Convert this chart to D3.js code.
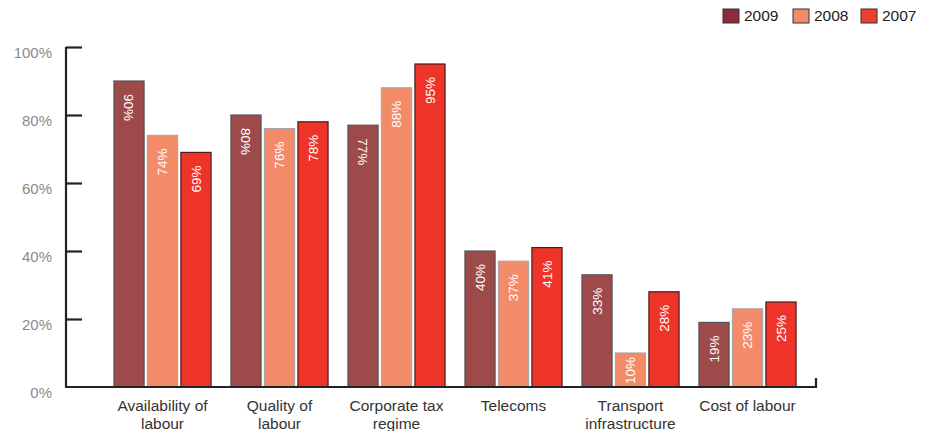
<!DOCTYPE html>
<html>
<head>
<meta charset="utf-8">
<script src="https://cdn.jsdelivr.net/npm/d3@7"></script>
<style>
  body { margin: 0; background: #fff; font-family: "Liberation Sans", Arial, sans-serif; }
  svg { display: block; }
</style>
</head>
<body>
<div id="chart"></div>
<script>
const categories = [["Availability of", "labour"], ["Quality of", "labour"], ["Corporate tax", "regime"], ["Telecoms"], ["Transport", "infrastructure"], ["Cost of labour"]];
const years = ["2009", "2008", "2007"];
const values2009 = [90, 80, 77, 40, 33, 19];
const values2008 = [74, 76, 88, 37, 10, 23];
const values2007 = [69, 78, 95, 41, 28, 25];
const yTicks = [0, 20, 40, 60, 80, 100];
// labels in these 2009 bars read top-to-bottom, all others bottom-to-top
const downLabels2009 = [0, 1, 2];

const width = 928, height = 431;
const fill = { "2009": "#9d4a4a", "2008": "#f38b69", "2007": "#ee3428" };
const stroke = { "2009": "#555", "2008": "#a8a8a8", "2007": "#4a1c1c" };
const legendFill = { "2009": "#8c2c36", "2008": "#f28a6b", "2007": "#e8412f" };

const series = { "2009": values2009, "2008": values2008, "2007": values2007 };
const rows = categories.map((c, i) => ({
  key: i, label: c,
  vals: years.map(y => ({ year: y, v: series[y][i], down: y === "2009" && downLabels2009.includes(i) }))
}));

const svg = d3.select("#chart").append("svg").attr("width", width).attr("height", height);

const x0 = d3.scaleBand().domain(rows.map(d => d.key)).range([104, 806]).paddingInner(0.17).paddingOuter(0.085);
const x1 = d3.scaleBand().domain(years).range([0, x0.bandwidth()]).paddingInner(0.1);
const y = d3.scaleLinear().domain([0, 100]).range([387, 47]);

// y axis
const yAxis = svg.append("g").attr("transform", "translate(66,0)")
  .call(d3.axisRight(y).tickValues(yTicks).tickSize(16).tickFormat(""));
yAxis.select(".domain").attr("stroke", "#222").attr("stroke-width", 2.2).attr("d", `M0,${y(100)}V${y(0)}`);
yAxis.selectAll(".tick line").attr("stroke", "#222").attr("stroke-width", 2.2);
yAxis.selectAll(".tick").filter(d => d === 0).remove();

svg.append("g").selectAll("text").data(yTicks).join("text")
  .attr("x", 52).attr("y", d => y(d) + 6).attr("dy", "0.35em")
  .attr("text-anchor", "end").attr("fill", "#8a8a8a").attr("font-size", 15)
  .text(d => d + "%");

// bars
const groups = svg.append("g").selectAll("g").data(rows).join("g")
  .attr("transform", d => `translate(${x0(d.key)},0)`);

groups.selectAll("rect").data(d => d.vals).join("rect")
  .attr("x", d => x1(d.year)).attr("y", d => y(d.v))
  .attr("width", x1.bandwidth()).attr("height", d => y(0) - y(d.v))
  .attr("fill", d => fill[d.year]).attr("stroke", d => stroke[d.year]).attr("stroke-width", 1.2);

groups.selectAll("text.val").data(d => d.vals).join("text").attr("class", "val")
  .attr("transform", d => {
    const off = Math.min(13, y(0) - y(d.v) - 30);
    return `translate(${x1(d.year) + x1.bandwidth() / 2},${y(d.v) + off}) rotate(${d.down ? 90 : -90})`;
  })
  .attr("text-anchor", d => d.down ? "start" : "end")
  .attr("dy", "0.35em").attr("fill", "#fff").attr("font-size", 13.5)
  .text(d => d.v + "%");

// x axis
svg.append("path").attr("d", `M65,${y(0)}H816V${y(0) - 9}`)
  .attr("fill", "none").attr("stroke", "#222").attr("stroke-width", 2.2);

groups.append("text").attr("text-anchor", "middle").attr("fill", "#333").attr("font-size", 15.5)
  .selectAll("tspan").data(d => d.label).join("tspan")
  .attr("x", x0.bandwidth() / 2).attr("y", (d, i) => 411 + i * 18)
  .text(d => d);

// legend
const legend = svg.append("g").selectAll("g").data(years).join("g")
  .attr("transform", (d, i) => `translate(${[723, 793, 861][i]},9)`);
legend.append("rect").attr("width", 16).attr("height", 14)
  .attr("fill", d => legendFill[d]).attr("stroke", "#333").attr("stroke-width", 1);
legend.append("text").attr("x", 21).attr("y", 7).attr("dy", "0.35em")
  .attr("font-size", 15.5).attr("fill", "#222").text(d => d);
</script>
</body>
</html>
